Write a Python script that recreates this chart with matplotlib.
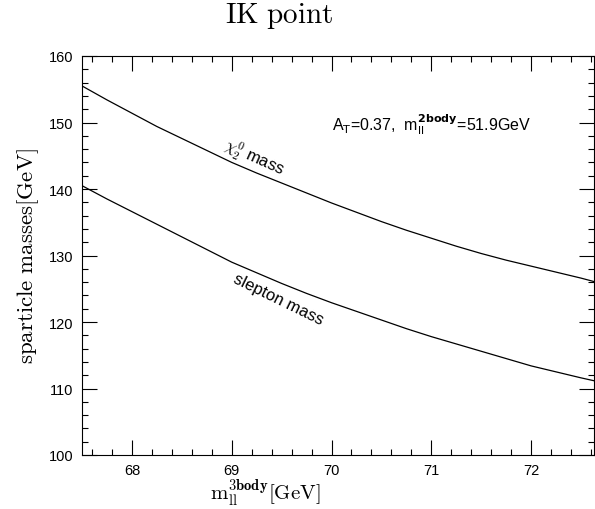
import numpy as np
import matplotlib
matplotlib.use('Agg')
import matplotlib.pyplot as plt
from matplotlib.ticker import MultipleLocator

# m_ll^3body [GeV]
m3body = [67.5, 67.75, 68.0, 68.25, 68.5, 68.75, 69.0, 69.25, 69.5, 69.75, 70.0, 70.25,
          70.5, 70.75, 71.0, 71.25, 71.5, 71.75, 72.0, 72.25, 72.5, 72.65]
# chi_2^0 mass [GeV]
chi2_mass = [155.5, 153.4, 151.4, 149.4, 147.6, 145.8, 144.0, 142.4, 140.9, 139.4, 137.9, 136.5,
             135.1, 133.8, 132.6, 131.4, 130.3, 129.3, 128.4, 127.5, 126.6, 126.0]
# slepton mass [GeV]
slepton_mass = [140.5, 138.5, 136.6, 134.7, 132.8, 130.9, 129.0, 127.4, 125.8, 124.3, 122.9, 121.6,
                120.3, 119.0, 117.8, 116.7, 115.6, 114.5, 113.4, 112.5, 111.6, 111.1]

plt.rcParams['font.family'] = ['Liberation Sans', 'DejaVu Sans']

fig = plt.figure(figsize=(5.95, 5.10), dpi=100)
ax = fig.add_axes([82 / 595, 1 - 456 / 510, (594 - 82) / 595, (456 - 57) / 510])

ax.plot(m3body, chi2_mass, color='black', lw=0.9)
ax.plot(m3body, slepton_mass, color='black', lw=0.9)

ax.set_xlim(67.5, 72.63)
ax.set_ylim(100, 160)
ax.xaxis.set_major_locator(MultipleLocator(1))
ax.xaxis.set_minor_locator(MultipleLocator(0.2))
ax.yaxis.set_major_locator(MultipleLocator(10))
ax.yaxis.set_minor_locator(MultipleLocator(2))
ax.tick_params(which='both', direction='in', top=True, right=True, width=0.8, labelsize=10.5, pad=6)
ax.tick_params(which='major', length=11)
ax.tick_params(which='minor', length=4)
for s in ax.spines.values():
    s.set_linewidth(0.8)

fig.text(279 / 595, 1 - 16 / 510, r'$\mathrm{IK\ point}$', fontsize=21, ha='center', va='center',
         math_fontfamily='cm')
ax.set_ylabel(r'$\mathrm{sparticle\ masses[GeV]}$', fontsize=16.5, math_fontfamily='cm', labelpad=6)
ax.set_xlabel(r'$\mathrm{m}_{\mathrm{ll}}^{\mathbf{3body}}\mathrm{[GeV]}$', fontsize=15,
              math_fontfamily='cm')
ax.xaxis.set_label_coords(0.357, -0.054)

ax.text(70.0, 149.9, r'A$_{\mathsf{T}}$=0.37,  m$_{\mathsf{ll}}^{\mathbf{2body}}$=51.9GeV',
        fontsize=11.5, va='center', ha='left', math_fontfamily='dejavusans')
ax.text(69.22, 144.8, r'$\chi^0_2$ mass', fontsize=12, rotation=-24,
        ha='center', va='center', rotation_mode='anchor', math_fontfamily='cm')
ax.text(69.47, 123.5, 'slepton mass', fontsize=12, rotation=-26,
        ha='center', va='center', rotation_mode='anchor')

fig.savefig('out.png', dpi=100)
